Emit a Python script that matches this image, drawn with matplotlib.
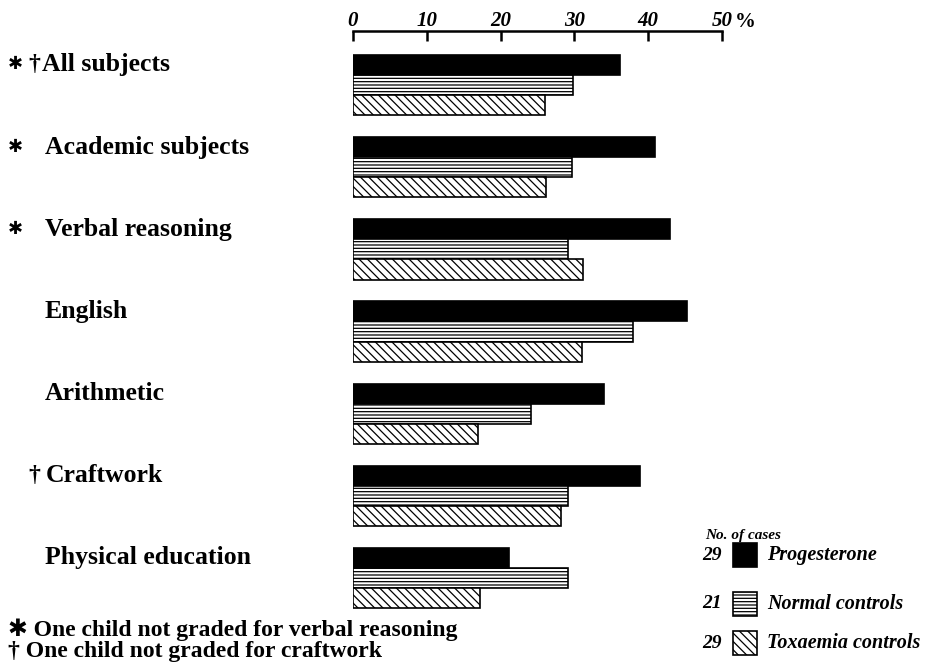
import matplotlib
matplotlib.use("Agg")
import matplotlib.pyplot as plt
from matplotlib.patches import Rectangle
from matplotlib.transforms import blended_transform_factory

# values (% of children)
subjects = ["All subjects", "Academic subjects", "Verbal reasoning", "English",
            "Arithmetic", "Craftwork", "Physical education"]
star = [True, True, True, False, False, False, False]
dagger = [True, False, False, False, False, True, False]
progesterone = [36.2, 40.9, 43.0, 45.2, 34.0, 38.9, 21.1]
normal = [29.8, 29.7, 29.1, 38.0, 24.1, 29.1, 29.1]
toxaemia = [26.0, 26.1, 31.2, 31.0, 16.9, 28.2, 17.2]
series_names = ["Progesterone", "Normal controls", "Toxaemia controls"]
n_cases = [29, 21, 29]
ticks = [0, 10, 20, 30, 40, 50]

plt.rcParams['font.family'] = ['Liberation Serif', 'DejaVu Sans']
plt.rcParams['hatch.linewidth'] = 0.9

W, H = 930, 666
fig = plt.figure(figsize=(9.3, 6.66), dpi=100)
ax = fig.add_axes([353 / W, 1 - 620 / H, 369 / W, 589 / H])

h = 0.245
hatches = [None, '-----', '\\\\\\\\']
colors = ['black', 'white', 'white']
ypos = list(range(len(subjects)))
for k, vals in enumerate([progesterone, normal, toxaemia]):
    ax.barh([y + (k - 1) * h for y in ypos], vals, height=h, left=0,
            color=colors[k], edgecolor='black', hatch=hatches[k], linewidth=1.2)

ax.set_xlim(0, 50)
ax.set_ylim(6.51, -0.657)
for s in ['left', 'right', 'bottom']:
    ax.spines[s].set_visible(False)
ax.spines['top'].set_linewidth(1.8)
ax.xaxis.tick_top()
ax.set_xticks(ticks)
ax.set_xticklabels([str(t) for t in ticks], fontsize=15, style='italic', fontweight='bold')
ax.tick_params(axis='x', direction='in', length=7, width=1.8, pad=0)
ax.set_yticks([])
ax.set_facecolor('none')
fig.text(735 / W, 1 - 22 / H, "%", fontsize=15, fontweight='bold',
         va='center', ha='left')

# category labels on the left
tr = blended_transform_factory(fig.transFigure, ax.transData)
for i, name in enumerate(subjects):
    y = ypos[i] - h
    if star[i]:
        ax.text(8 / W, y, "\u2731", transform=tr, fontsize=13,
                fontweight='bold', va='center', ha='left')
    if dagger[i]:
        ax.text(28 / W, y, "\u2020", transform=tr, fontsize=17,
                fontweight='bold', va='center', ha='left')
        x0 = 42 if i == 0 else 46
    else:
        x0 = 45
    ax.text(x0 / W, y, name, transform=tr, fontsize=18.5,
            fontweight='bold', va='center', ha='left')

# legend
fig.text(705 / W, 1 - 536 / H, "No. of cases", fontsize=11, style='italic',
         fontweight='bold', va='center')
leg_y = [555, 604, 643]
for k in range(3):
    yc = 1 - leg_y[k] / H
    fig.text(722 / W, yc, str(n_cases[k]), fontsize=14, style='italic',
             fontweight='bold', va='center', ha='right')
    fig.add_artist(Rectangle((733 / W, yc - 12 / H), 24 / W, 24 / H,
                             transform=fig.transFigure, facecolor=colors[k],
                             edgecolor='black', hatch=hatches[k], linewidth=1.2))
    fig.text(767 / W, yc, series_names[k], fontsize=14.5, style='italic',
             fontweight='bold', va='center', ha='left')

# footnotes
fig.text(8 / W, 1 - 630 / H, "\u2731 One child not graded for verbal reasoning",
         fontsize=17, fontweight='bold', va='center')
fig.text(8 / W, 1 - 652 / H, "\u2020 One child not graded for craftwork",
         fontsize=17, fontweight='bold', va='center')

fig.savefig("out.png", dpi=100)
